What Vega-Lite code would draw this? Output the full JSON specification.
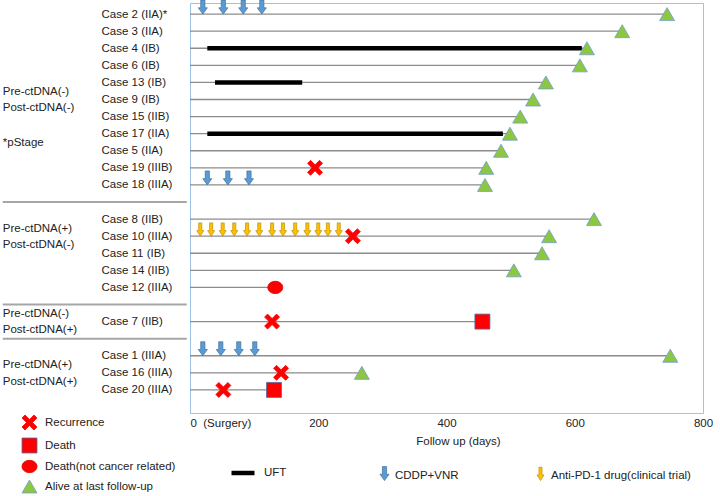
{
  "$schema": "https://vega.github.io/schema/vega-lite/v6.json",
  "width": 513,
  "height": 410,
  "autosize": "none",
  "padding": {"left": 190, "top": 3, "right": 17, "bottom": 83},
  "background": "white",
  "config": {
    "font": "Liberation Sans",
    "view": {"stroke": "#9DC3E6", "strokeWidth": 1},
    "axis": {"labelFont": "Liberation Sans", "labelFontSize": 11.5, "labelColor": "#222", "titleFont": "Liberation Sans", "titleFontSize": 11.5, "titleFontWeight": "normal", "titleColor": "#222", "grid": false, "domain": false, "ticks": false},
    "legend": {"labelFont": "Liberation Sans", "labelFontSize": 11.5, "labelColor": "#222", "padding": 0}
  },
  "datasets": {
    "events": [
      {"case": "Case 2 (IIA)*", "day": 744, "event": "Alive at last follow-up"},
      {"case": "Case 3 (IIA)", "day": 674, "event": "Alive at last follow-up"},
      {"case": "Case 4 (IB)", "day": 619, "event": "Alive at last follow-up"},
      {"case": "Case 6 (IB)", "day": 608, "event": "Alive at last follow-up"},
      {"case": "Case 13 (IB)", "day": 555, "event": "Alive at last follow-up"},
      {"case": "Case 9 (IB)", "day": 535, "event": "Alive at last follow-up"},
      {"case": "Case 15 (IIB)", "day": 515, "event": "Alive at last follow-up"},
      {"case": "Case 17 (IIA)", "day": 499, "event": "Alive at last follow-up"},
      {"case": "Case 5 (IIA)", "day": 485, "event": "Alive at last follow-up"},
      {"case": "Case 19 (IIIB)", "day": 195, "event": "Recurrence"},
      {"case": "Case 19 (IIIB)", "day": 462, "event": "Alive at last follow-up"},
      {"case": "Case 18 (IIIA)", "day": 460, "event": "Alive at last follow-up"},
      {"case": "Case 8 (IIB)", "day": 630, "event": "Alive at last follow-up"},
      {"case": "Case 10 (IIIA)", "day": 254, "event": "Recurrence"},
      {"case": "Case 10 (IIIA)", "day": 560, "event": "Alive at last follow-up"},
      {"case": "Case 11 (IB)", "day": 549, "event": "Alive at last follow-up"},
      {"case": "Case 14 (IIB)", "day": 505, "event": "Alive at last follow-up"},
      {"case": "Case 12 (IIIA)", "day": 133, "event": "Death(not cancer related)"},
      {"case": "Case 7 (IIB)", "day": 128, "event": "Recurrence"},
      {"case": "Case 7 (IIB)", "day": 456, "event": "Death"},
      {"case": "Case 1 (IIIA)", "day": 749, "event": "Alive at last follow-up"},
      {"case": "Case 16 (IIIA)", "day": 142, "event": "Recurrence"},
      {"case": "Case 16 (IIIA)", "day": 268, "event": "Alive at last follow-up"},
      {"case": "Case 20 (IIIA)", "day": 52, "event": "Recurrence"},
      {"case": "Case 20 (IIIA)", "day": 131, "event": "Death"}
    ],
    "uft": [
      {"case": "Case 4 (IB)", "start": 27, "end": 611, "treatment": "UFT"},
      {"case": "Case 13 (IB)", "start": 39, "end": 175, "treatment": "UFT"},
      {"case": "Case 17 (IIA)", "start": 27, "end": 488, "treatment": "UFT"}
    ],
    "doses": [
      {"case": "Case 2 (IIA)*", "day": 20, "treatment": "CDDP+VNR"},
      {"case": "Case 2 (IIA)*", "day": 52, "treatment": "CDDP+VNR"},
      {"case": "Case 2 (IIA)*", "day": 83, "treatment": "CDDP+VNR"},
      {"case": "Case 2 (IIA)*", "day": 112, "treatment": "CDDP+VNR"},
      {"case": "Case 18 (IIIA)", "day": 27, "treatment": "CDDP+VNR"},
      {"case": "Case 18 (IIIA)", "day": 59, "treatment": "CDDP+VNR"},
      {"case": "Case 18 (IIIA)", "day": 92, "treatment": "CDDP+VNR"},
      {"case": "Case 1 (IIIA)", "day": 20, "treatment": "CDDP+VNR"},
      {"case": "Case 1 (IIIA)", "day": 48, "treatment": "CDDP+VNR"},
      {"case": "Case 1 (IIIA)", "day": 76, "treatment": "CDDP+VNR"},
      {"case": "Case 1 (IIIA)", "day": 101, "treatment": "CDDP+VNR"},
      {"case": "Case 10 (IIIA)", "day": 16, "treatment": "Anti-PD-1 drug(clinical trial)"},
      {"case": "Case 10 (IIIA)", "day": 33, "treatment": "Anti-PD-1 drug(clinical trial)"},
      {"case": "Case 10 (IIIA)", "day": 51, "treatment": "Anti-PD-1 drug(clinical trial)"},
      {"case": "Case 10 (IIIA)", "day": 69, "treatment": "Anti-PD-1 drug(clinical trial)"},
      {"case": "Case 10 (IIIA)", "day": 89, "treatment": "Anti-PD-1 drug(clinical trial)"},
      {"case": "Case 10 (IIIA)", "day": 108, "treatment": "Anti-PD-1 drug(clinical trial)"},
      {"case": "Case 10 (IIIA)", "day": 128, "treatment": "Anti-PD-1 drug(clinical trial)"},
      {"case": "Case 10 (IIIA)", "day": 145, "treatment": "Anti-PD-1 drug(clinical trial)"},
      {"case": "Case 10 (IIIA)", "day": 164, "treatment": "Anti-PD-1 drug(clinical trial)"},
      {"case": "Case 10 (IIIA)", "day": 183, "treatment": "Anti-PD-1 drug(clinical trial)"},
      {"case": "Case 10 (IIIA)", "day": 200, "treatment": "Anti-PD-1 drug(clinical trial)"},
      {"case": "Case 10 (IIIA)", "day": 215, "treatment": "Anti-PD-1 drug(clinical trial)"},
      {"case": "Case 10 (IIIA)", "day": 232, "treatment": "Anti-PD-1 drug(clinical trial)"}
    ],
    "groups": [
      {"case": "Case 9 (IB)", "label": "Pre-ctDNA(-)\nPost-ctDNA(-)"},
      {"case": "Case 5 (IIA)", "label": "*pStage"},
      {"case": "Case 10 (IIIA)", "label": "Pre-ctDNA(+)\nPost-ctDNA(-)"},
      {"case": "Case 7 (IIB)", "label": "Pre-ctDNA(-)\nPost-ctDNA(+)"},
      {"case": "Case 16 (IIIA)", "label": "Pre-ctDNA(+)\nPost-ctDNA(+)"}
    ],
    "seps": [
      {"case": " "},
      {"case": "  "},
      {"case": "   "}
    ]
  },
  "encoding": {
    "y": {
      "field": "case",
      "type": "nominal",
      "scale": {
        "type": "point",
        "domain": ["Case 2 (IIA)*", "Case 3 (IIA)", "Case 4 (IB)", "Case 6 (IB)", "Case 13 (IB)", "Case 9 (IB)", "Case 15 (IIB)", "Case 17 (IIA)", "Case 5 (IIA)", "Case 19 (IIIB)", "Case 18 (IIIA)", " ", "Case 8 (IIB)", "Case 10 (IIIA)", "Case 11 (IB)", "Case 14 (IIB)", "Case 12 (IIIA)", "  ", "Case 7 (IIB)", "   ", "Case 1 (IIIA)", "Case 16 (IIIA)", "Case 20 (IIIA)"],
        "padding": 1.19,
        "align": 0.325
      },
      "axis": {"title": null, "labelAlign": "left", "labelPadding": 89, "labelBaseline": "middle"}
    }
  },
  "layer": [
    {
      "data": {"name": "events"},
      "transform": [{"aggregate": [{"op": "max", "field": "day", "as": "followup"}], "groupby": ["case"]}],
      "mark": {"type": "rule", "color": "#8c8c8c", "strokeWidth": 1.3},
      "encoding": {
        "x": {
          "field": "followup",
          "type": "quantitative",
          "title": "Follow up (days)",
          "scale": {"domain": [0, 800], "nice": false, "zero": false},
          "axis": {
            "values": [0, 200, 400, 600, 800],
            "labelExpr": "datum.value == 0 ? '0\u00a0\u00a0(Surgery)' : datum.label",
            "labelAlign": {"condition": {"test": "datum.value == 0", "value": "left"}, "value": "center"},
            "labelPadding": 4,
            "titlePadding": 7,
            "titleX": 268
          }
        },
        "x2": {"datum": 0}
      }
    },
    {
      "data": {"name": "seps"},
      "mark": {"type": "rule", "color": "#a6a6a6", "strokeWidth": 2},
      "encoding": {
        "x": {"datum": -292, "type": "quantitative", "title": "Follow up (days)", "scale": {"domain": [0, 800], "nice": false, "zero": false}},
        "x2": {"datum": -5}
      }
    },
    {
      "data": {"name": "groups"},
      "mark": {"type": "text", "align": "left", "baseline": "middle", "lineBreak": "\n", "lineHeight": 16.3, "fontSize": 11.5, "color": "#222", "font": "Liberation Sans", "dy": -7.5},
      "encoding": {
        "x": {"datum": -292, "type": "quantitative", "title": "Follow up (days)", "scale": {"domain": [0, 800], "nice": false, "zero": false}},
        "text": {"field": "label", "type": "nominal"}
      }
    },
    {
      "data": {"name": "uft"},
      "mark": {"type": "rule", "strokeWidth": 4.5},
      "encoding": {
        "x": {"field": "start", "type": "quantitative", "title": "Follow up (days)", "scale": {"domain": [0, 800], "nice": false, "zero": false}},
        "x2": {"field": "end"},
        "stroke": {
          "field": "treatment",
          "type": "nominal",
          "scale": {"domain": ["UFT"], "range": ["#000000"]},
          "legend": {"title": null, "orient": "none", "legendX": 39, "legendY": 456, "symbolType": "stroke", "symbolSize": 529, "symbolStrokeWidth": 4.5, "labelOffset": 7}
        }
      }
    },
    {
      "data": {"name": "doses"},
      "mark": {"type": "point", "filled": true, "opacity": 1, "size": 196, "strokeWidth": 0.7},
      "encoding": {
        "x": {"field": "day", "type": "quantitative", "title": "Follow up (days)", "scale": {"domain": [0, 800], "nice": false, "zero": false}},
        "color": {
          "field": "treatment",
          "type": "nominal",
          "scale": {"domain": ["CDDP+VNR", "Anti-PD-1 drug(clinical trial)"], "range": ["#5B9BD5", "#FFC000"]},
          "legend": {"title": null, "orient": "none", "direction": "horizontal", "legendX": 187, "legendY": 470, "symbolSize": 196, "symbolStrokeWidth": 0.7, "labelOffset": 3, "columnPadding": 74, "labelBaseline": "bottom"}
        },
        "shape": {
          "field": "treatment",
          "type": "nominal",
          "scale": {"domain": ["CDDP+VNR", "Anti-PD-1 drug(clinical trial)"], "range": ["M-0.3,-2L0.3,-2L0.3,-0.9L0.65,-0.9L0,0L-0.65,-0.9L-0.3,-0.9Z", "M-0.22,-1.9L0.22,-1.9L0.22,-0.8L0.5,-0.8L0,0L-0.5,-0.8L-0.22,-0.8Z"]}
        },
        "stroke": {
          "field": "treatment",
          "type": "nominal",
          "scale": {"domain": ["CDDP+VNR", "Anti-PD-1 drug(clinical trial)"], "range": ["#41719C", "#BF9000"]}
        }
      }
    },
    {
      "data": {"name": "events"},
      "mark": {"type": "point", "filled": true, "opacity": 1, "size": 225, "strokeWidth": 0.8},
      "encoding": {
        "x": {"field": "day", "type": "quantitative", "title": "Follow up (days)", "scale": {"domain": [0, 800], "nice": false, "zero": false}},
        "fill": {
          "field": "event",
          "type": "nominal",
          "scale": {"domain": ["Recurrence", "Death", "Death(not cancer related)", "Alive at last follow-up"], "range": ["#FF0000", "#FF0000", "#FF0000", "#8DC641"]},
          "legend": {"title": null, "orient": "none", "direction": "vertical", "legendX": -168.5, "legendY": 411.5, "symbolSize": 225, "symbolStrokeWidth": 0.8, "labelOffset": 7.5, "rowPadding": 3}
        },
        "shape": {
          "field": "event",
          "type": "nominal",
          "scale": {"domain": ["Recurrence", "Death", "Death(not cancer related)", "Alive at last follow-up"], "range": ["M-1,-0.6L-0.6,-1L0,-0.4L0.6,-1L1,-0.6L0.4,0L1,0.6L0.6,1L0,0.4L-0.6,1L-1,0.6L-0.4,0Z", "square", "M-1,0A1,0.82,0,1,1,1,0A1,0.82,0,1,1,-1,0Z", "triangle-up"]}
        },
        "stroke": {
          "field": "event",
          "type": "nominal",
          "scale": {"domain": ["Recurrence", "Death", "Death(not cancer related)", "Alive at last follow-up"], "range": ["#FF0000", "#4F6FA8", "#E00000", "#6F9FCF"]}
        }
      }
    }
  ],
  "resolve": {
    "scale": {"shape": "independent", "stroke": "independent", "color": "independent", "fill": "independent"}
  }
}
